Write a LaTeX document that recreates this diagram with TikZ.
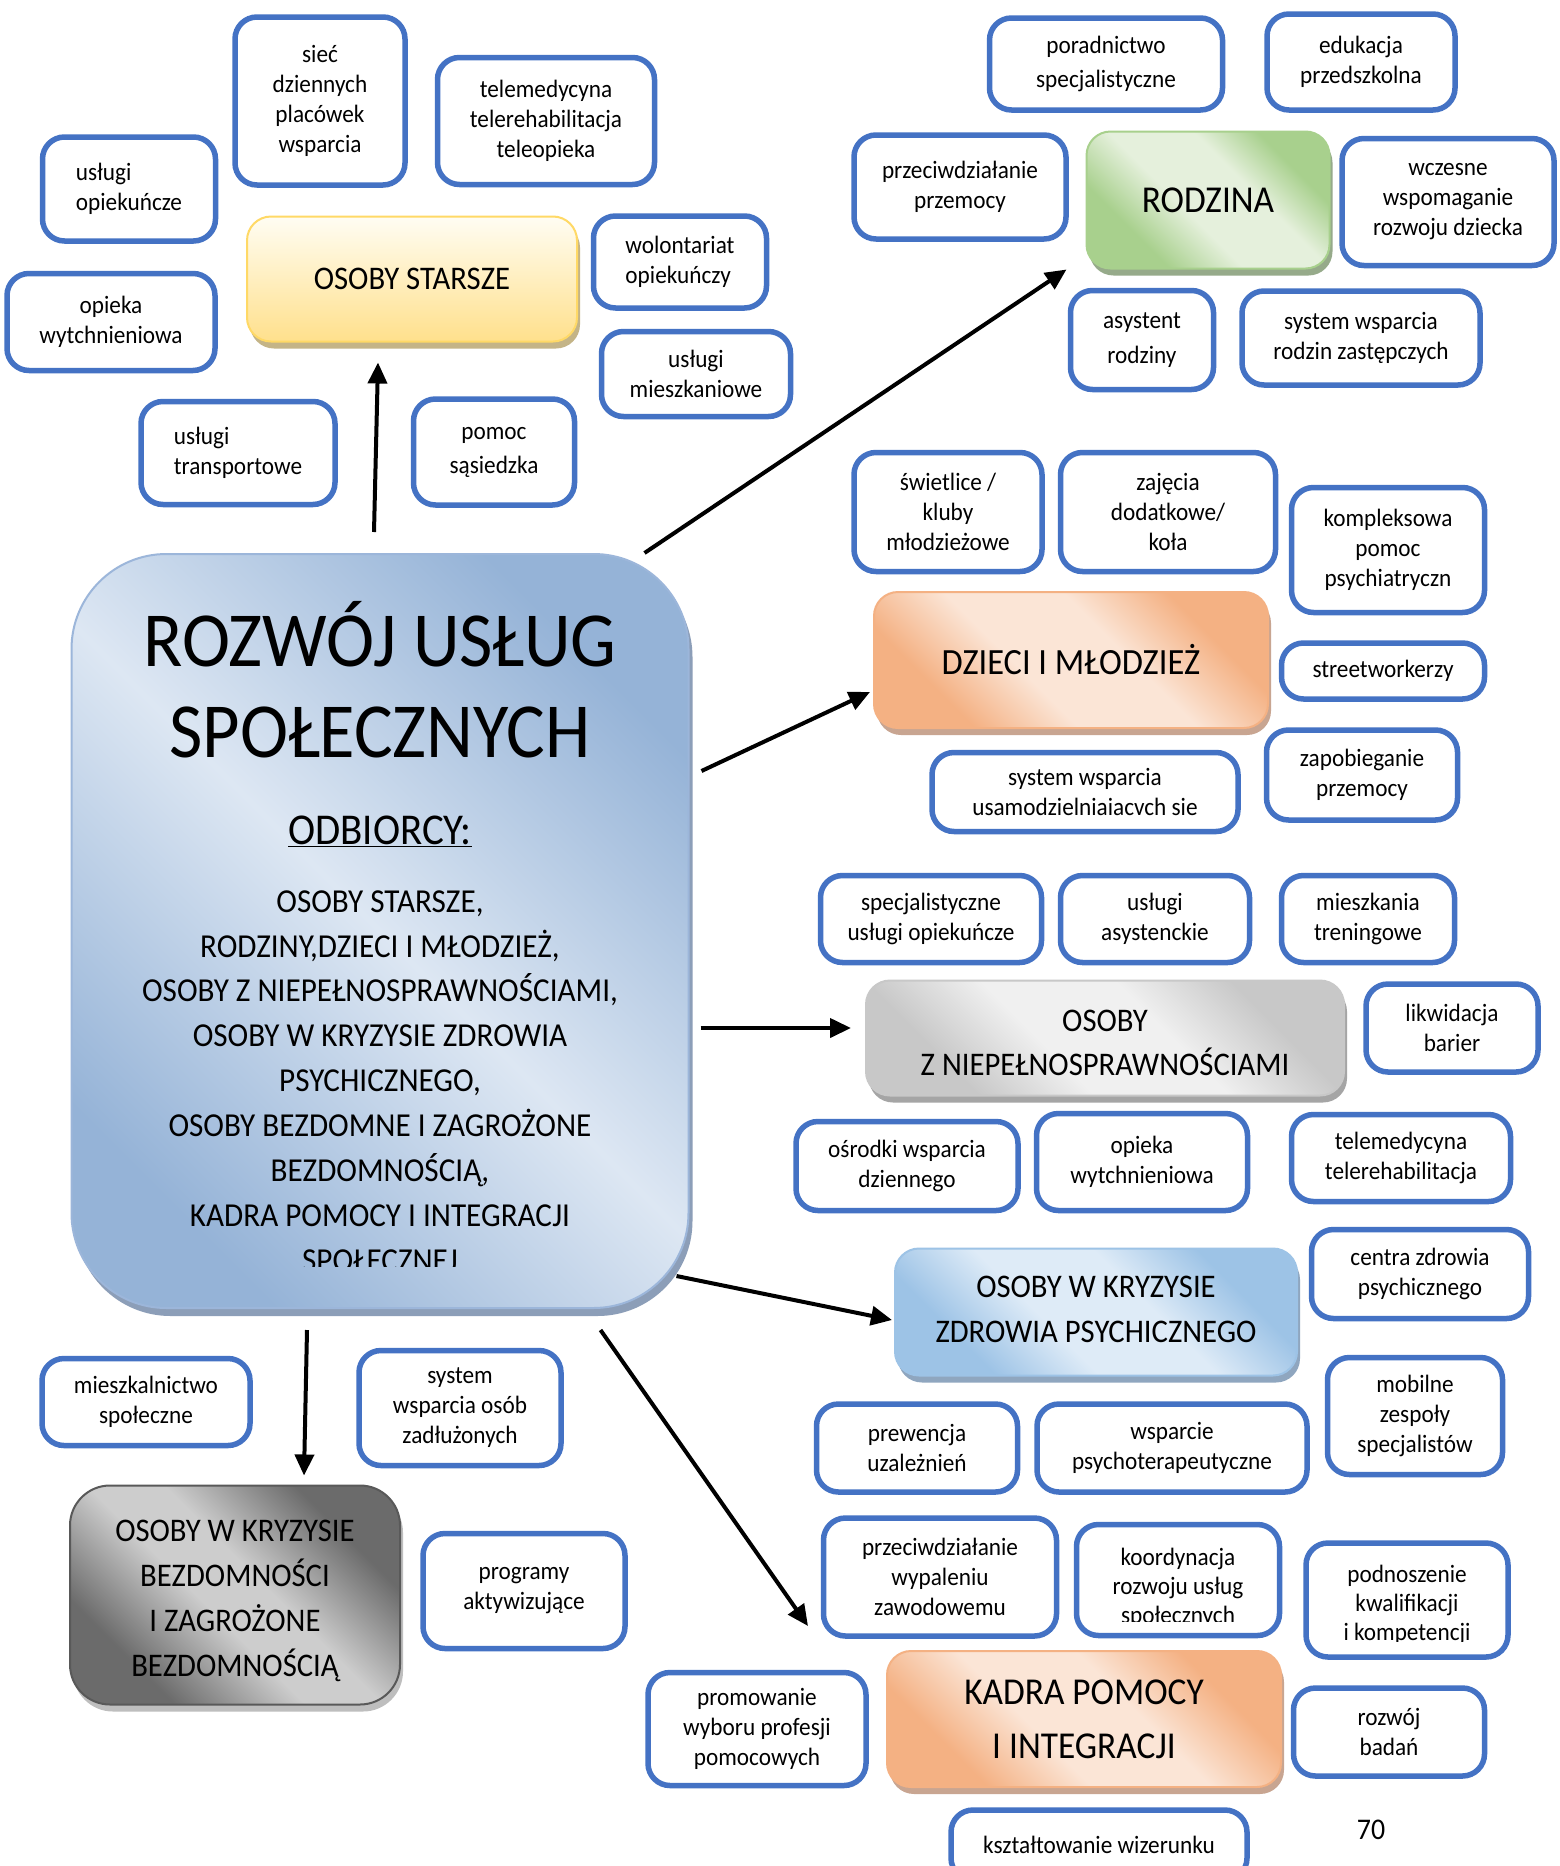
\documentclass[tikz,border=0pt]{standalone}
\usepackage{fontspec}
\setmainfont{Carlito}[FakeStretch=0.93]
\usetikzlibrary{shapes,arrows.meta,positioning,shadows}
\definecolor{frameblue}{RGB}{68,114,196}
\definecolor{maindark}{RGB}{149,179,215}
\definecolor{mainlight}{RGB}{221,231,243}
\definecolor{mainedge}{RGB}{156,182,218}
\definecolor{mainshadow}{RGB}{140,158,184}
\definecolor{yellowtop}{RGB}{255,253,243}
\definecolor{yellowbot}{RGB}{255,224,140}
\definecolor{yellowedge}{RGB}{255,217,102}
\definecolor{yellowshadow}{RGB}{196,180,135}
\definecolor{greendark}{RGB}{168,208,141}
\definecolor{greenlight}{RGB}{229,240,220}
\definecolor{greenshadow}{RGB}{150,170,138}
\definecolor{orangedark}{RGB}{244,177,131}
\definecolor{orangelight}{RGB}{251,229,214}
\definecolor{orangeshadow}{RGB}{200,165,145}
\definecolor{greydark}{RGB}{200,200,200}
\definecolor{greylight}{RGB}{240,240,240}
\definecolor{greyshadow}{RGB}{165,165,165}
\definecolor{skydark}{RGB}{157,195,230}
\definecolor{skylight}{RGB}{222,235,247}
\definecolor{skyshadow}{RGB}{143,166,191}
\definecolor{slatedark}{RGB}{107,107,107}
\definecolor{slatelight}{RGB}{205,205,205}
\definecolor{slateedge}{RGB}{89,89,89}
\definecolor{slateshadow}{RGB}{190,190,190}
\pgfdeclarehorizontalshading{mainshade}{100bp}{color(0bp)=(maindark); color(25bp)=(maindark); color(50bp)=(mainlight); color(75bp)=(maindark); color(100bp)=(maindark)}
\pgfdeclarehorizontalshading{greenshade}{100bp}{color(0bp)=(greendark); color(30bp)=(greendark); color(44bp)=(greenlight); color(60bp)=(greenlight); color(72bp)=(greendark); color(100bp)=(greendark)}
\pgfdeclarehorizontalshading{orangeshade}{100bp}{color(0bp)=(orangedark); color(28bp)=(orangedark); color(42bp)=(orangelight); color(58bp)=(orangelight); color(72bp)=(orangedark); color(100bp)=(orangedark)}
\pgfdeclarehorizontalshading{greyshade}{100bp}{color(0bp)=(greydark); color(28bp)=(greydark); color(42bp)=(greylight); color(58bp)=(greylight); color(72bp)=(greydark); color(100bp)=(greydark)}
\pgfdeclarehorizontalshading{skyshade}{100bp}{color(0bp)=(skydark); color(28bp)=(skydark); color(42bp)=(skylight); color(58bp)=(skylight); color(72bp)=(skydark); color(100bp)=(skydark)}
\pgfdeclarehorizontalshading{slateshade}{100bp}{color(0bp)=(slatedark); color(28bp)=(slatedark); color(45bp)=(slatelight); color(55bp)=(slatelight); color(72bp)=(slatedark); color(100bp)=(slatedark)}
\tikzset{
    box/.style={draw=frameblue, line width=5.5pt, rounded corners=22pt, fill=white, align=center, inner sep=3pt, font=\fontsize{25}{30}\selectfont},
    catbox/.style={rounded corners=24pt, line width=2pt, align=center, inner sep=4pt},
    arr/.style={-{Triangle[length=21pt,width=19pt]}, line width=4pt}
}

\begin{document}
\begin{tikzpicture}[x=1pt, y=-1pt]
    \fill[white] (0,0) rectangle (1559,1866);
    \clip (0,0) rectangle (1559,1866);

    % centre
    \node[draw=mainedge, line width=2pt, rounded corners=95pt, shading=mainshade, shading angle=45, minimum width=617pt, minimum height=754pt,
        drop shadow={shadow xshift=4pt, shadow yshift=-8pt, fill=mainshadow, opacity=1}] (main) at (380,931) {};
    \node[font=\fontsize{78}{91}\selectfont, align=center] (maintitle) at (380,680) {ROZWÓJ USŁUG\\SPOŁECZNYCH};
    \node[font=\fontsize{44}{50}\selectfont] (odbiorcy) at (380,831) {\underline{ODBIORCY:}};
    \begin{scope}
        \clip (0,0) rectangle (1559,1266);
        \node[font=\fontsize{33.5}{44.9}\selectfont, align=center] (recipients) at (380,1081) {OSOBY STARSZE,\\RODZINY,DZIECI I MŁODZIEŻ,\\OSOBY Z NIEPEŁNOSPRAWNOŚCIAMI,\\OSOBY W KRYZYSIE ZDROWIA\\PSYCHICZNEGO,\\OSOBY BEZDOMNE I ZAGROŻONE\\BEZDOMNOŚCIĄ,\\KADRA POMOCY I INTEGRACJI\\SPOŁECZNEJ};
    \end{scope}

    % osoby starsze
    \node[catbox, minimum width=330pt, minimum height=125pt, draw=yellowedge, top color=yellowtop, bottom color=yellowbot,
        drop shadow={shadow xshift=3pt, shadow yshift=-7pt, fill=yellowshadow, opacity=1}, font=\fontsize{33}{40}\selectfont] (starsze) at (412,279) {OSOBY STARSZE};
    \node[box, minimum width=170pt, minimum height=168pt] (siec) at (320,101) {sieć\\dziennych\\placówek\\wsparcia};
    \node[box, minimum width=217pt, minimum height=127pt] (telemed) at (546,121) {telemedycyna\\telerehabilitacja\\teleopieka};
    \node[box, minimum width=173pt, minimum height=104pt, align=left] (uslopiek) at (129,189) {usługi\\opiekuńcze};
    \node[box, minimum width=173pt, minimum height=92pt, align=left] (wolont) at (680,262) {wolontariat\\opiekuńczy};
    \node[box, minimum width=208pt, minimum height=97pt] (opwytch) at (111,322) {opieka\\wytchnieniowa};
    \node[box, minimum width=189pt, minimum height=85pt] (uslmiesz) at (696,374) {usługi\\mieszkaniowe};
    \node[box, minimum width=194pt, minimum height=103pt, align=left] (usltrans) at (238,453) {usługi\\transportowe};
    \node[box, minimum width=161pt, minimum height=106pt, font=\fontsize{25}{34}\selectfont] (pomoc) at (494,452) {pomoc\\sąsiedzka};

    % rodzina
    \node[catbox, minimum width=243pt, minimum height=137pt, draw=greendark, shading=greenshade, shading angle=45,
        drop shadow={shadow xshift=3pt, shadow yshift=-7pt, fill=greenshadow, opacity=1}, font=\fontsize{38}{46}\selectfont] (rodzina) at (1208,200) {RODZINA};
    \node[box, minimum width=233pt, minimum height=92pt, font=\fontsize{25}{34}\selectfont] (porad) at (1106,64) {poradnictwo\\specjalistyczne};
    \node[box, minimum width=188pt, minimum height=96pt] (eduk) at (1361,62) {edukacja\\przedszkolna};
    \node[box, minimum width=212pt, minimum height=104pt] (przemoc) at (960,187) {przeciwdziałanie\\przemocy};
    \node[box, minimum width=212pt, minimum height=127pt] (wczesne) at (1448,202) {wczesne\\wspomaganie\\rozwoju dziecka};
    \node[box, minimum width=143pt, minimum height=99pt, font=\fontsize{25}{35}\selectfont] (asyst) at (1142,340) {asystent\\rodziny};
    \node[box, minimum width=238pt, minimum height=94pt] (zastep) at (1361,338) {system wsparcia\\rodzin zastępczych};

    % dzieci i mlodziez
    \node[catbox, minimum width=394pt, minimum height=136pt, draw=orangedark, shading=orangeshade, shading angle=45,
        drop shadow={shadow xshift=3pt, shadow yshift=-7pt, fill=orangeshadow, opacity=1}, font=\fontsize{37}{44}\selectfont] (dzieci) at (1071,660) {DZIECI I MŁODZIEŻ};
    \node[box, minimum width=188pt, minimum height=119pt] (swietl) at (948,512) {świetlice /\\kluby\\młodzieżowe};
    \node[box, minimum width=215pt, minimum height=119pt] (zajecia) at (1168,512) {zajęcia\\dodatkowe/\\koła};
    \node[box, minimum width=193pt, minimum height=125pt] (komplek) at (1388,550) {kompleksowa\\pomoc\\psychiatryczn};
    \node[box, minimum width=203pt, minimum height=56pt] (street) at (1383,671) {streetworkerzy};
    \node[box, minimum width=306pt, minimum height=79pt] (usamodz) at (1085,792) {system wsparcia\\usamodzielniaiacvch sie};
    \node[box, minimum width=191pt, minimum height=90pt] (zapob) at (1362,775) {zapobieganie\\przemocy};

    % niepelnosprawni
    \node[catbox, minimum width=478pt, minimum height=115pt, draw=greydark, shading=greyshade, shading angle=45,
        drop shadow={shadow xshift=3pt, shadow yshift=-7pt, fill=greyshadow, opacity=1}] (niep) at (1105,1038) {};
    \node[font=\fontsize{33}{44}\selectfont, align=center] (nieptxt) at (1105,1043) {OSOBY\\Z NIEPEŁNOSPRAWNOŚCIAMI};
    \node[box, minimum width=221pt, minimum height=87pt] (specusl) at (931,919) {specjalistyczne\\usługi opiekuńcze};
    \node[box, minimum width=189pt, minimum height=87pt] (asystenck) at (1155,919) {usługi\\asystenckie};
    \node[box, minimum width=173pt, minimum height=87pt] (mieszk) at (1368,919) {mieszkania\\treningowe};
    \node[box, minimum width=172pt, minimum height=88pt] (likwid) at (1452,1028) {likwidacja\\barier};
    \node[box, minimum width=222pt, minimum height=89pt] (osrodki) at (907,1166) {ośrodki wsparcia\\dziennego};
    \node[box, minimum width=211pt, minimum height=97pt] (opwytch2) at (1142,1162) {opieka\\wytchnieniowa};
    \node[box, minimum width=219pt, minimum height=87pt] (telemed2) at (1401,1158) {telemedycyna\\telerehabilitacja};

    % zdrowie psychiczne
    \node[catbox, minimum width=402pt, minimum height=127pt, draw=skydark, shading=skyshade, shading angle=45,
        drop shadow={shadow xshift=3pt, shadow yshift=-7pt, fill=skyshadow, opacity=1}] (zdrowie) at (1096,1312) {};
    \node[font=\fontsize{33}{45}\selectfont, align=center] (zdrowietxt) at (1096,1309) {OSOBY W KRYZYSIE\\ZDROWIA PSYCHICZNEGO};
    \node[box, minimum width=217pt, minimum height=89pt] (centra) at (1420,1274) {centra zdrowia\\psychicznego};
    \node[box, minimum width=201pt, minimum height=88pt] (prewencja) at (917,1448) {prewencja\\uzależnień};
    \node[box, minimum width=270pt, minimum height=88pt] (psycho) at (1172,1448) {wsparcie\\psychoterapeutyczne};
    \node[box, minimum width=175pt, minimum height=117pt] (mobilne) at (1415,1416) {mobilne\\zespoły\\specjalistów};

    % kadra
    \node[catbox, minimum width=394pt, minimum height=136pt, draw=orangedark, shading=orangeshade, shading angle=45,
        drop shadow={shadow xshift=3pt, shadow yshift=-7pt, fill=orangeshadow, opacity=1}, font=\fontsize{38}{54}\selectfont] (kadra) at (1084,1719) {KADRA POMOCY\\I INTEGRACJI};
    \node[box, minimum width=233pt, minimum height=118pt] (wypalenie) at (940,1577) {przeciwdziałanie\\wypaleniu\\zawodowemu};
    \node[box, minimum width=203pt, minimum height=111pt] (koordyn) at (1178,1580) {};
    \begin{scope}
        \clip (1060,1530) rectangle (1300,1621);
        \node[font=\fontsize{25}{29}\selectfont, align=center] (koordyntxt) at (1178,1588) {koordynacja\\rozwoju usług\\społecznych};
    \end{scope}
    \node[box, minimum width=202pt, minimum height=114pt] (podnosz) at (1407,1600) {};
    \begin{scope}
        \clip (1300,1540) rectangle (1520,1641);
        \node[font=\fontsize{25}{29}\selectfont, align=center] (podnosztxt) at (1407,1605) {podnoszenie\\kwalifikacji\\i kompetencji};
    \end{scope}
    \node[box, minimum width=191pt, minimum height=88pt] (rozwoj) at (1389,1732) {rozwój\\badań};
    \node[box, minimum width=218pt, minimum height=113pt] (promow) at (757,1729) {promowanie\\wyboru profesji\\pomocowych};
    \node[box, minimum width=296pt, minimum height=70pt] (wizerunek) at (1099,1845) {kształtowanie wizerunku};
    \node[font=\fontsize{30}{36}\selectfont] (pagenum) at (1371,1830) {70};

    % bezdomnosc
    \node[catbox, minimum width=330pt, minimum height=219pt, rounded corners=40pt, draw=slateedge, shading=slateshade, shading angle=45,
        drop shadow={shadow xshift=3pt, shadow yshift=-7pt, fill=slateshadow, opacity=1}] (bezdom) at (235,1595) {};
    \node[font=\fontsize{33}{45}\selectfont, align=center] (bezdomtxt) at (235,1601) {OSOBY W KRYZYSIE\\BEZDOMNOŚCI\\I ZAGROŻONE\\BEZDOMNOŚCIĄ};
    \node[box, minimum width=208pt, minimum height=87pt] (mieszkaln) at (146,1402) {mieszkalnictwo\\społeczne};
    \node[box, minimum width=202pt, minimum height=115pt] (zadluz) at (460,1408) {system\\wsparcia osób\\zadłużonych};
    \node[box, minimum width=202pt, minimum height=115pt] (programy) at (524,1591) {programy\\aktywizujące};

    % arrows
    \draw[arr] ([xshift=-6pt,yshift=21pt]main.north) -- ([xshift=-34pt,yshift=-20pt]starsze.south);
    \draw[arr] ([xshift=-45pt]main.north east) -- ([xshift=-19pt]rodzina.south west);
    \draw[arr] ([xshift=12pt,yshift=160pt]main.east) -- ([xshift=-3pt,yshift=-32pt]dzieci.west);
    \draw[arr] ([xshift=11pt,yshift=10pt]main.east |- niep.west) -- ([xshift=-14pt,yshift=10pt]niep.west);
    \draw[arr] ([xshift=-13pt,yshift=-345pt]main.east) -- ([xshift=-2pt,yshift=-8pt]zdrowie.west);
    \draw[arr] ([xshift=-89pt,yshift=-21pt]main.south east) -- ([xshift=-78pt,yshift=24pt]kadra.north west);
    \draw[arr] ([xshift=-73pt,yshift=-21pt]main.south) -- ([xshift=69pt,yshift=9pt]bezdom.north);
\end{tikzpicture}
\end{document}
